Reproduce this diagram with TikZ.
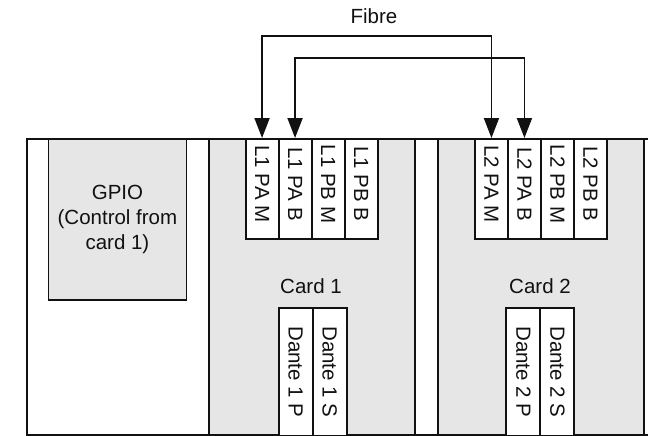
\documentclass[tikz,border=0pt]{standalone}
\usepackage{fontspec}
\setmainfont{Liberation Sans}
\usetikzlibrary{arrows.meta}
\definecolor{panel}{HTML}{E6E6E6}
\definecolor{ink}{HTML}{111111}
\begin{document}
\begin{tikzpicture}[x=1pt,y=-1pt,
  every node/.style={font=\fontsize{20.5}{25}\selectfont, text=ink},
  frame/.style={draw=ink, line width=1.9pt, rectangle, inner sep=0pt, anchor=north west},
  cardbox/.style={frame, fill=panel},
  portbox/.style={frame, fill=white, minimum width=33pt, minimum height=100pt},
  dantebox/.style={frame, fill=white, minimum width=34pt, minimum height=128pt},
  fibre/.style={draw=ink, line width=1.9pt, {Triangle[length=20pt,width=15pt]}-{Triangle[length=20pt,width=15pt]}},
  plain/.style={inner sep=0pt}]
\useasboundingbox (0,0) rectangle (648,436);
% outer chassis
\node[frame, fill=white, minimum width=626pt, minimum height=296pt] (chassis) at (25.6,138) {};
% GPIO
\node[cardbox, minimum width=138pt, minimum height=161pt, align=center] (gpio) at (47.5,138) {GPIO\\(Control from\\card 1)};
% cards
\node[cardbox, minimum width=206pt, minimum height=296pt] (card1) at (208,138) {};
\node[cardbox, minimum width=206pt, minimum height=296pt] (card2) at (437,138) {};
\node[plain] (card1lbl) at (311,285.7) {Card 1};
\node[plain] (card2lbl) at (540,285.7) {Card 2};
% L1 ports
\node[portbox] (l1pam) at (244.6,138) {\rotatebox[origin=c]{-90}{L1 PA M\kern10pt}};
\node[portbox] (l1pab) at (277.6,138) {\rotatebox[origin=c]{-90}{L1 PA B\kern10pt}};
\node[portbox] (l1pbm) at (310.6,138) {\rotatebox[origin=c]{-90}{L1 PB M\kern10pt}};
\node[portbox] (l1pbb) at (343.6,138) {\rotatebox[origin=c]{-90}{L1 PB B\kern10pt}};
% L2 ports
\node[portbox] (l2pam) at (474,138) {\rotatebox[origin=c]{-90}{L2 PA M\kern10pt}};
\node[portbox] (l2pab) at (507,138) {\rotatebox[origin=c]{-90}{L2 PA B\kern10pt}};
\node[portbox] (l2pbm) at (540,138) {\rotatebox[origin=c]{-90}{L2 PB M\kern10pt}};
\node[portbox] (l2pbb) at (573,138) {\rotatebox[origin=c]{-90}{L2 PB B\kern10pt}};
% Dante
\node[dantebox] (d1p) at (277.7,307) {\rotatebox[origin=c]{-90}{Dante 1 P}};
\node[dantebox] (d1s) at (311.7,307) {\rotatebox[origin=c]{-90}{Dante 1 S}};
\node[dantebox] (d2p) at (505.4,307) {\rotatebox[origin=c]{-90}{Dante 2 P}};
\node[dantebox] (d2s) at (539.4,307) {\rotatebox[origin=c]{-90}{Dante 2 S}};
% fibre
\node[plain] (fibrelbl) at (374,16) {Fibre};
\coordinate (f1) at (0,35.7);
\coordinate (f2) at (0,58.3);
\draw[fibre] (l1pam.north) -- (l1pam.north |- f1) -| (l2pam.north);
\draw[fibre] (l1pab.north) -- (l1pab.north |- f2) -| (l2pab.north);
\end{tikzpicture}
\end{document}
